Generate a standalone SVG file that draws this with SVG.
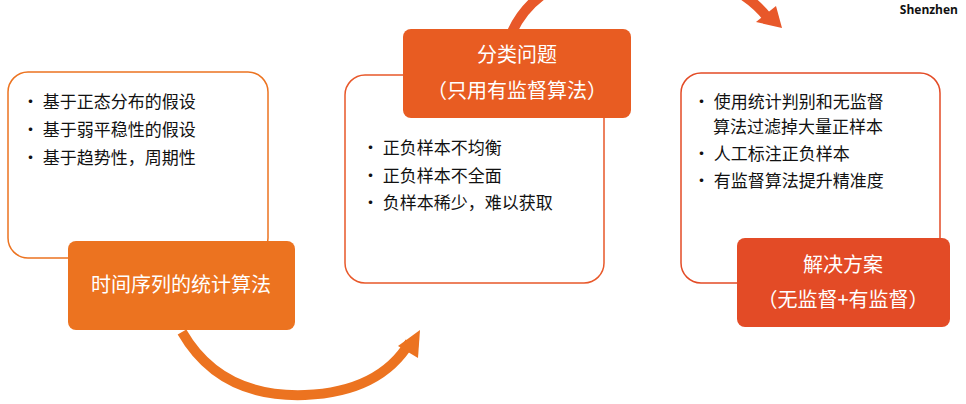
<svg xmlns="http://www.w3.org/2000/svg" width="966" height="404" viewBox="0 0 966 404">
<style>
.frame{fill:#fff;stroke-width:1.5;}
.t{font-family:"Noto Sans CJK SC","Liberation Sans",sans-serif;font-size:17px;fill:#111;}
.h{font-family:"Noto Sans CJK SC","Liberation Sans",sans-serif;font-size:20px;fill:#fff;text-anchor:middle;}
.arc{fill:none;stroke-width:10;}
</style>
<rect width="966" height="404" fill="#fff"/>
<text x="958" y="14" font-family="Open Sans,DejaVu Sans,sans-serif" font-size="12" font-weight="bold" text-anchor="end" fill="#111">Shenzhen</text>
<g id="connectors">
<path class="arc" stroke="#E8582A" d="M512,32 Q540,-30 640,-30 Q730,-30 768,18"/>
<polygon fill="#E8582A" points="782,28 756,22 776,6"/>
<path class="arc" stroke="#EC7320" d="M182,332 Q220,398 305,395 Q380,392 410,342"/>
<polygon fill="#EC7320" points="420,330 418,358 398,346"/>
</g>
<g id="node1">
<rect class="frame" stroke="#EC7320" x="8" y="72" width="260" height="186" rx="20"/>
<text class="t" x="22" y="108">• 基于正态分布的假设</text>
<text class="t" x="22" y="136">• 基于弱平稳性的假设</text>
<text class="t" x="22" y="164">• 基于趋势性，周期性</text>
<rect x="68" y="241" width="227" height="89" rx="8" fill="#EC7320"/>
<text class="h" x="181" y="292">时间序列的统计算法</text>
</g>
<g id="node2">
<rect class="frame" stroke="#E8582A" x="345" y="75" width="259" height="208" rx="20"/>
<text class="t" x="362" y="154">• 正负样本不均衡</text>
<text class="t" x="362" y="182">• 正负样本不全面</text>
<text class="t" x="362" y="209">• 负样本稀少，难以获取</text>
<rect x="403" y="29" width="228" height="89" rx="8" fill="#E85C22"/>
<text class="h" x="517" y="62">分类问题</text>
<text class="h" x="517" y="98">（只用有监督算法）</text>
</g>
<g id="node3">
<rect class="frame" stroke="#E34B26" x="681" y="73" width="259" height="210" rx="20"/>
<text class="t" x="693" y="108">• 使用统计判别和无监督</text>
<text class="t" x="713" y="133">算法过滤掉大量正样本</text>
<text class="t" x="693" y="160">• 人工标注正负样本</text>
<text class="t" x="693" y="187">• 有监督算法提升精准度</text>
<rect x="737" y="238" width="213" height="89" rx="8" fill="#E34B26"/>
<text class="h" x="843" y="272">解决方案</text>
<text class="h" x="843" y="307">（无监督+有监督）</text>
</g>
</svg>
